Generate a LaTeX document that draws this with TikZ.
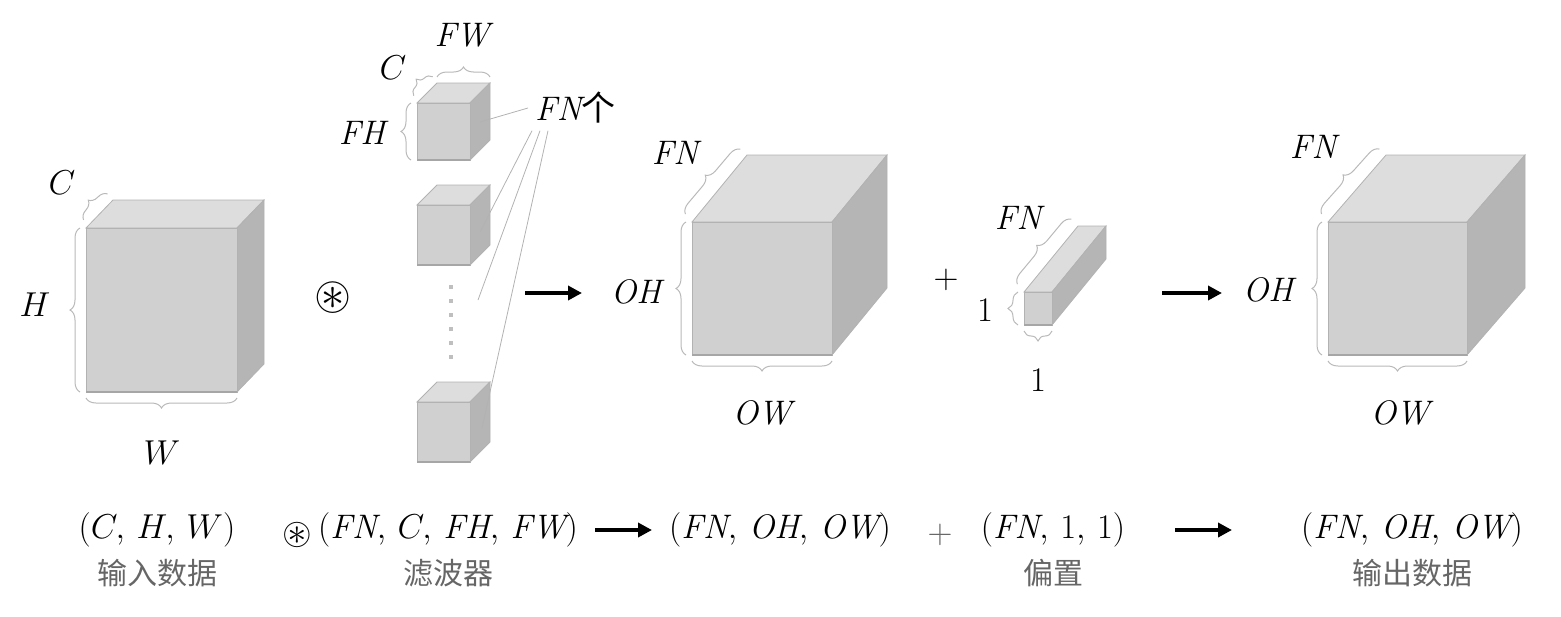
\documentclass[tikz,border=0pt]{standalone}
\usepackage{amssymb}
\usepackage{fontspec}
\newfontfamily\cjk{Noto Sans CJK SC}
\usetikzlibrary{decorations.pathreplacing,arrows.meta}

\tikzset{
  face/.style={draw=gray!60,line width=0.4pt},
  brc/.style={draw=gray!55,line width=0.5pt,decorate,decoration={brace,amplitude=5pt,raise=3pt}},
  lbl/.style={font=\fontsize{17}{20}\selectfont},
  zh/.style={font=\cjk\fontsize{15}{18}\selectfont,text=gray!80!black},
  ops/.style={font=\fontsize{17}{20}\selectfont,scale=1.4},
  arr/.style={line width=2pt,-{Triangle[length=7pt,width=7pt]}},
  lead/.style={draw=gray!60,line width=0.4pt},
}
% front top-left (x,y) in pixels down, width, height, depth dx, dy
\newcommand\drawcube[6]{%
  \fill[gray!27,face] (#1,-#2) -- ++(#5,#6) -- ++(#3,0) -- ++(-#5,-#6) -- cycle;
  \fill[gray!58,face] (#1+#3,-#2) -- ++(#5,#6) -- ++(0,-#4) -- ++(-#5,-#6) -- cycle;
  \fill[gray!37,face] (#1,-#2) rectangle ++(#3,-#4);
  \draw[gray!70,line width=1pt] (#1,-#2-#4) -- ++(#3,0);
}

\begin{document}
\begin{tikzpicture}[x=0.5pt,y=0.5pt]
\useasboundingbox (0,0) rectangle (1561,-616);

% input data
\drawcube{86}{228}{151}{164}{27}{28}
\draw[brc] (88,-224) -- (112,-198);
\draw[brc] (86,-392) -- (86,-228);
\draw[brc] (237,-392) -- (86,-392);
\node[lbl] (inC) at (62,-183) {$C$};
\node[lbl] (inH) at (35,-305) {$H$};
\node[lbl] (inW) at (162,-453) {$W$};

\node[ops] (conv) at (333,-298) {$\circledast$};

% filters
\drawcube{417}{103}{53}{57}{20}{20}
\drawcube{417}{205}{53}{60}{20}{20}
\drawcube{417}{402}{53}{60}{20}{20}
\draw[gray!50,line width=2pt,dash pattern=on 2pt off 5pt] (451,-285) -- (451,-362);
\draw[brc] (418,-100) -- (437,-81);
\draw[brc] (437,-83) -- (490,-83);
\draw[brc] (417,-160) -- (417,-103);
\node[lbl] (fW) at (462,-35) {$\mathit{FW}$};
\node[lbl] (fC) at (393,-68) {$C$};
\node[lbl] (fH) at (362,-133) {$\mathit{FH}$};
\node[lbl,anchor=west] (fN) at (528,-108) {$\mathit{FN}$\cjk 个};
\coordinate (f1) at (480,-122);
\coordinate (f2) at (480,-232);
\coordinate (f3) at (478,-300);
\coordinate (f4) at (482,-428);
\draw[lead] (fN.west) -- (f1);
\draw[lead] ([xshift=2pt]fN.south west) -- (f2);
\draw[lead] ([xshift=6pt]fN.south west) -- (f3);
\draw[lead] ([xshift=10pt]fN.south west) -- (f4);

\coordinate (a1) at (525,-293);
\coordinate (a2) at (582,-293);
\draw[arr] (a1) -- (a2);

% conv output
\drawcube{692}{222}{140}{133}{55}{67}
\draw[brc] (690,-218) -- (745,-153);
\draw[brc] (692,-355) -- (692,-222);
\draw[brc] (832,-355) -- (692,-355);
\node[lbl] (mN) at (675,-153) {$\mathit{FN}$};
\node[lbl] (mH) at (636,-292) {$\mathit{OH}$};
\node[lbl] (mW) at (762,-413) {$\mathit{OW}$};

\node[lbl] (plus) at (946,-280) {$+$};

% bias
\drawcube{1024}{292}{28}{33}{54}{66}
\draw[brc] (1022,-288) -- (1076,-223);
\draw[brc] (1024,-325) -- (1024,-292);
\draw[brc] (1052,-325) -- (1024,-325);
\node[lbl] (bN) at (1018,-218) {$\mathit{FN}$};
\node[lbl] (b1) at (985,-310) {$1$};
\node[lbl] (b2) at (1038,-380) {$1$};

\coordinate (a3) at (1162,-293);
\coordinate (a4) at (1222,-293);
\draw[arr] (a3) -- (a4);

% output
\drawcube{1328}{222}{139}{133}{58}{67}
\draw[brc] (1326,-218) -- (1384,-153);
\draw[brc] (1328,-355) -- (1328,-222);
\draw[brc] (1467,-355) -- (1328,-355);
\node[lbl] (oN) at (1313,-147) {$\mathit{FN}$};
\node[lbl] (oH) at (1268,-290) {$\mathit{OH}$};
\node[lbl] (oW) at (1400,-413) {$\mathit{OW}$};

% shapes row
\node[lbl] (s1) at (157,-530) {$(C,\,H,\,W)$};
\node[zh] (t1) at (157,-573) {输入数据};
\node[ops,scale=0.8] (s2) at (297,-535) {$\circledast$};
\node[lbl] (s3) at (448,-530) {$(\mathit{FN},\,C,\,\mathit{FH},\,\mathit{FW})$};
\node[zh] (t3) at (448,-573) {滤波器};
\coordinate (a5) at (595,-530);
\coordinate (a6) at (652,-530);
\draw[arr] (a5) -- (a6);
\node[lbl] (s4) at (780,-530) {$(\mathit{FN},\,\mathit{OH},\,\mathit{OW})$};
\node[lbl,text=gray!80!black] (s5) at (940,-535) {$+$};
\node[lbl] (s6) at (1053,-530) {$(\mathit{FN},\,1,\,1)$};
\node[zh] (t6) at (1053,-573) {偏置};
\coordinate (a7) at (1175,-530);
\coordinate (a8) at (1232,-530);
\draw[arr] (a7) -- (a8);
\node[lbl] (s7) at (1412,-530) {$(\mathit{FN},\,\mathit{OH},\,\mathit{OW})$};
\node[zh] (t7) at (1412,-573) {输出数据};
\end{tikzpicture}
\end{document}
